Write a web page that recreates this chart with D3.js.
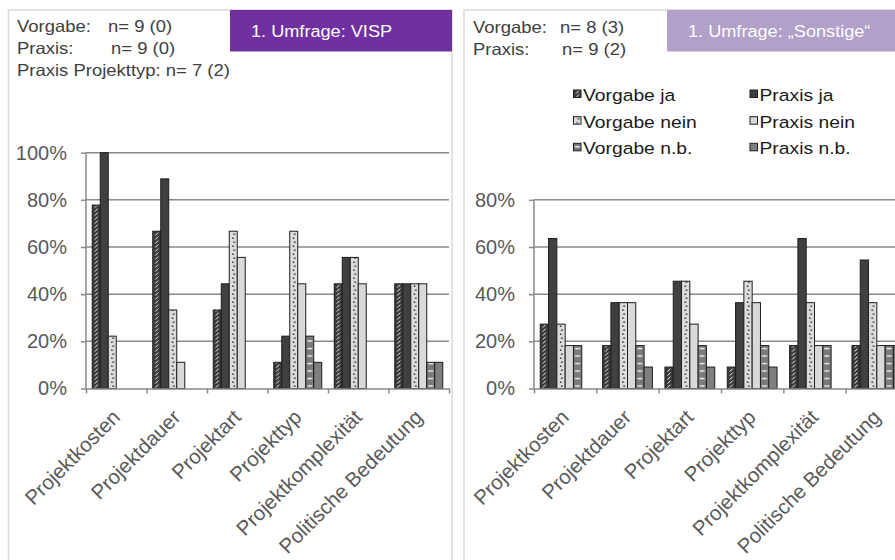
<!DOCTYPE html>
<html>
<head>
<meta charset="utf-8">
<script src="https://cdn.jsdelivr.net/npm/d3@7"></script>
<style>
  html, body { margin: 0; padding: 0; background: #fff; overflow: hidden; }
  svg { display: block; font-family: "Liberation Sans", Arial, sans-serif; }
</style>
</head>
<body>
<svg id="chart" width="895" height="560"></svg>
<script>
// ---------- data ----------
const categories = ["Projektkosten", "Projektdauer", "Projektart", "Projekttyp", "Projektkomplexität", "Politische Bedeutung"];
const seriesNames = ["Vorgabe ja", "Praxis ja", "Vorgabe nein", "Praxis nein", "Vorgabe n.b.", "Praxis n.b."];

// 1. Umfrage: VISP (percent)
const vispVorgabeJa   = [77.8, 66.7, 33.3, 11.1, 44.4, 44.4];
const vispPraxisJa    = [100, 88.9, 44.4, 22.2, 55.6, 44.4];
const vispVorgabeNein = [22.2, 33.3, 66.7, 66.7, 55.6, 44.4];
const vispPraxisNein  = [0, 11.1, 55.6, 44.4, 44.4, 44.4];
const vispVorgabeNB   = [0, 0, 0, 22.2, 0, 11.1];
const vispPraxisNB    = [0, 0, 0, 11.1, 0, 11.1];

// 1. Umfrage: "Sonstige" (percent)
const sonstVorgabeJa   = [27.3, 18.2, 9.1, 9.1, 18.2, 18.2];
const sonstPraxisJa    = [63.6, 36.4, 45.5, 36.4, 63.6, 54.5];
const sonstVorgabeNein = [27.3, 36.4, 45.5, 45.5, 36.4, 36.4];
const sonstPraxisNein  = [18.2, 36.4, 27.3, 36.4, 18.2, 18.2];
const sonstVorgabeNB   = [18.2, 18.2, 18.2, 18.2, 18.2, 18.2];
const sonstPraxisNB    = [0, 9.1, 9.1, 9.1, 0, 18.2];

const yTicksVisp = [0, 20, 40, 60, 80, 100];
const yTicksSonst = [0, 20, 40, 60, 80];

const vispTitle = "1. Umfrage: VISP";
const sonstTitle = "1. Umfrage: \u201ESonstige\u201C";

// ---------- drawing ----------
const svg = d3.select("#chart");
const defs = svg.append("defs");

const fills = ["url(#pVJ)", "#404040", "url(#pVN)", "#d9d9d9", "url(#pVNB)", "#7f7f7f"];

// pattern: Vorgabe ja (dark with white slashes)
let p = defs.append("pattern").attr("id", "pVJ").attr("patternUnits", "userSpaceOnUse")
  .attr("width", 8).attr("height", 4);
p.append("rect").attr("width", 8).attr("height", 4).attr("fill", "#3b3b3b");
p.append("line").attr("x1", 2.6).attr("y1", 3.6).attr("x2", 5.4).attr("y2", 0.6)
  .attr("stroke", "#f2f2f2").attr("stroke-width", 1);
// pattern: Vorgabe nein (light with black dots)
p = defs.append("pattern").attr("id", "pVN").attr("patternUnits", "userSpaceOnUse")
  .attr("width", 8).attr("height", 8);
p.append("rect").attr("width", 8).attr("height", 8).attr("fill", "#dcdcdc");
p.append("rect").attr("x", 4.3).attr("y", 1.5).attr("width", 1.4).attr("height", 1.4).attr("fill", "#111");
p.append("rect").attr("x", 3.0).attr("y", 5.5).attr("width", 1.4).attr("height", 1.4).attr("fill", "#111");
// pattern: Vorgabe n.b. (gray with white horizontal dashes)
p = defs.append("pattern").attr("id", "pVNB").attr("patternUnits", "userSpaceOnUse")
  .attr("width", 8).attr("height", 7.5);
p.append("rect").attr("width", 8).attr("height", 7.5).attr("fill", "#7a7a7a");
p.append("line").attr("x1", 1.5).attr("y1", 3.5).attr("x2", 6.5).attr("y2", 3.5)
  .attr("stroke", "#fafafa").attr("stroke-width", 1.3);

const y = d3.scaleLinear().domain([0, 100]).range([388.5, 152.7]);

function drawPanel(cfg) {
  const g = svg.append("g");
  // panel border
  g.append("rect").attr("x", cfg.boxX).attr("y", 10).attr("width", cfg.boxW).attr("height", 600)
    .attr("fill", "none").attr("stroke", "#d9d9d9").attr("stroke-width", 1.5);
  // title box
  g.append("rect").attr("x", cfg.titleX).attr("y", 10).attr("width", cfg.titleW).attr("height", 41.5)
    .attr("fill", cfg.titleColor);
  g.append("text").attr("transform", `translate(${cfg.titleTextX},36.5) scale(1.1,1)`)
    .attr("font-size", 16.5).attr("fill", "#fff").text(cfg.title);
  // header notes
  cfg.notes.forEach(n => {
    g.append("text").attr("transform", `translate(${n[0]},${n[1]}) scale(1.12,1)`)
      .attr("font-size", 16.5).attr("fill", "#404040").text(n[2]);
  });

  const x0 = d3.scaleBand().domain(categories).range([cfg.axisX, cfg.axisEnd]).padding(0);
  const pad = (x0.bandwidth() - cfg.barW * 6) / 2;
  const x1 = d3.scaleBand().domain(seriesNames).range([pad, x0.bandwidth() - pad]).padding(0);
  const topVal = cfg.ticks[cfg.ticks.length - 1];

  // gridlines
  g.append("g").selectAll("line").data(cfg.ticks.filter(t => t > 0)).join("line")
    .attr("x1", cfg.axisX).attr("x2", cfg.axisEnd)
    .attr("y1", d => y(d)).attr("y2", d => y(d))
    .attr("stroke", "#8a8a8a").attr("stroke-width", 1.5);

  // y axis
  const yAxis = g.append("g").attr("transform", `translate(${cfg.axisX},0)`)
    .call(d3.axisLeft(y).tickValues(cfg.ticks).tickFormat(d => d + "%").tickSize(5).tickSizeOuter(0).tickPadding(14));
  yAxis.select(".domain").remove();
  yAxis.selectAll(".tick line").attr("stroke", "#8a8a8a").attr("stroke-width", 1.5);
  yAxis.selectAll("text").attr("font-size", 20).attr("fill", "#595959").attr("font-family", "Liberation Sans, Arial, sans-serif");
  g.append("line").attr("x1", cfg.axisX).attr("x2", cfg.axisX).attr("y1", y(0)).attr("y2", y(topVal))
    .attr("stroke", "#8a8a8a").attr("stroke-width", 1.5);

  // bars
  const series = cfg.values.map((vals, si) => ({ name: seriesNames[si], fill: fills[si], vals }));
  const bars = g.append("g");
  series.forEach(s => {
    bars.append("g").selectAll("g").data(s.vals.map((v, i) => ({ cat: categories[i], v })).filter(d => d.v > 0))
      .join("g")
      .attr("transform", d => `translate(${x0(d.cat) + x1(s.name)},0)`)
      .append("rect")
      .attr("x", 0).attr("y", d => y(d.v))
      .attr("width", x1.bandwidth()).attr("height", d => y(0) - y(d.v))
      .attr("fill", s.fill).attr("stroke", "#1e1e1e").attr("stroke-width", 1);
  });

  // x axis line with boundary ticks
  const xb = d3.scaleLinear().domain([0, categories.length]).range([cfg.axisX, cfg.axisEnd]);
  const xAxisB = g.append("g").attr("transform", `translate(0,${y(0)})`)
    .call(d3.axisBottom(xb).tickValues(d3.range(categories.length + 1)).tickFormat("").tickSize(5).tickSizeOuter(0));
  xAxisB.select(".domain").attr("stroke", "#8a8a8a").attr("stroke-width", 1.5);
  xAxisB.selectAll(".tick line").attr("stroke", "#8a8a8a").attr("stroke-width", 1.5);

  // category labels
  const xAxisL = g.append("g").attr("transform", `translate(0,${y(0)})`)
    .call(d3.axisBottom(x0).tickSize(0).tickPadding(0));
  xAxisL.select(".domain").remove();
  xAxisL.selectAll("text")
    .attr("y", 0).attr("dy", 0).attr("x", 0)
    .attr("text-anchor", "end")
    .attr("transform", "translate(5,30) rotate(-45)")
    .attr("font-size", 20.5).attr("fill", "#595959").attr("font-family", "Liberation Sans, Arial, sans-serif");
}

drawPanel({
  boxX: 8.5, boxW: 443.5,
  titleX: 230, titleW: 222, titleColor: "#7030a0", titleTextX: 251, title: vispTitle,
  notes: [[17, 32, "Vorgabe:"], [108, 32, "n= 9 (0)"], [17, 54, "Praxis:"], [111, 54, "n= 9 (0)"], [17, 76, "Praxis Projekttyp: n= 7 (2)"]],
  axisX: 86, axisEnd: 449, barW: 8,
  ticks: yTicksVisp,
  values: [vispVorgabeJa, vispPraxisJa, vispVorgabeNein, vispPraxisNein, vispVorgabeNB, vispPraxisNB]
});

drawPanel({
  boxX: 464, boxW: 460,
  titleX: 667, titleW: 260, titleColor: "#b1a0c7", titleTextX: 688, title: sonstTitle,
  notes: [[473, 33, "Vorgabe:"], [560, 33, "n= 8 (3)"], [473, 55, "Praxis:"], [562, 55, "n= 9 (2)"]],
  axisX: 534, axisEnd: 908, barW: 8.3,
  ticks: yTicksSonst,
  values: [sonstVorgabeJa, sonstPraxisJa, sonstVorgabeNein, sonstPraxisNein, sonstVorgabeNB, sonstPraxisNB]
});

// legend (in right panel)
const legendCols = [573.5, 750];
const legendRows = [90, 116.7, 143.3];
const legend = svg.append("g");
seriesNames.forEach((name, si) => {
  const col = si % 2, row = Math.floor(si / 2);
  const lg = legend.append("g").attr("transform", `translate(${legendCols[col]},${legendRows[row]})`);
  lg.append("rect").attr("x", 0).attr("y", 0).attr("width", 7.5).attr("height", 7.5)
    .attr("fill", fills[si]).attr("stroke", "#1e1e1e").attr("stroke-width", 1);
  lg.append("text").attr("transform", "translate(9.5,11) scale(1.17,1)")
    .attr("font-size", 16.5).attr("fill", "#1a1a1a").text(name);
});
</script>
</body>
</html>
